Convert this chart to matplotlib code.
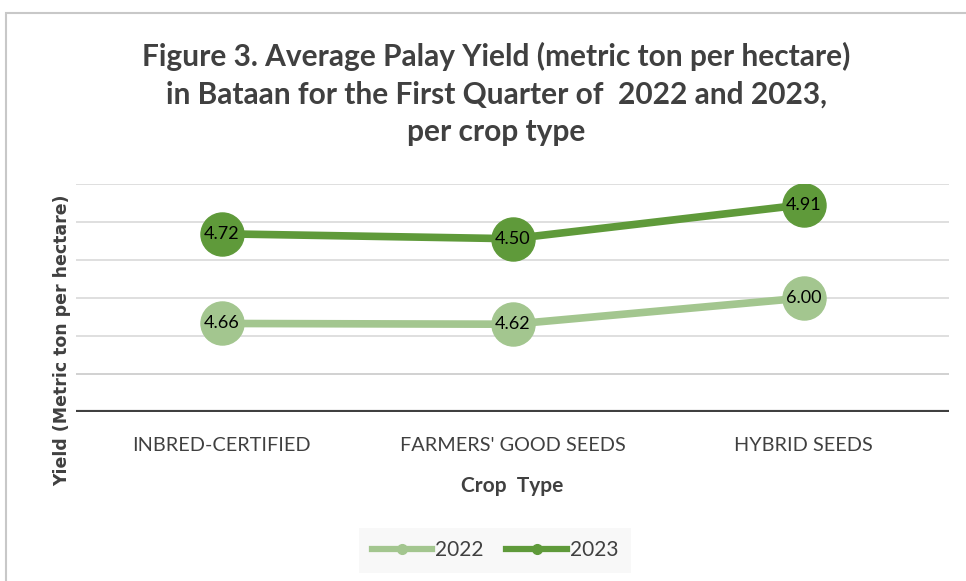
import numpy as np
import matplotlib.pyplot as plt
from matplotlib.patches import Rectangle
from matplotlib.lines import Line2D

crops = ['INBRED-CERTIFIED', "FARMERS' GOOD SEEDS", 'HYBRID SEEDS']
y2022 = [4.66, 4.62, 6.00]
y2023 = [4.72, 4.50, 4.91]
years = ['2022', '2023']

c22 = '#a3c68f'
c23 = '#5f9a3a'
narrow = ['Lato', 'DejaVu Sans']

W, H = 966, 581
fig = plt.figure(figsize=(W/100, H/100), dpi=100)

# chart frame (right and bottom edges are cut off in the original)
fig.patches.append(Rectangle((6/W, -0.1), 1.2, 1.1-13/H, transform=fig.transFigure,
                             fill=False, ec='#c8c8c8', lw=1.5))

ax = fig.add_axes([76/W, 1-412/H, 873/W, 228/H])
x = np.arange(len(crops))
top = np.array(y2022) + np.array(y2023)   # stacked line

ax.plot(x, y2022, color=c22, lw=5.5, marker='o', ms=31, zorder=3)
ax.plot(x, top, color=c23, lw=5.5, marker='o', ms=31, zorder=3)
for xi, yv, v in zip(x, y2022, y2022):
    ax.text(xi, yv, f'{v:.2f}', ha='center', va='center', fontsize=13,
            family=narrow, zorder=5)
for xi, yv, v in zip(x, top, y2023):
    ax.text(xi, yv, f'{v:.2f}', ha='center', va='center', fontsize=13,
            family=narrow, zorder=5)

ax.set_xlim(-0.5, 2.5)
ax.set_ylim(0, 12)
ax.set_yticks(np.arange(0, 13, 2))
ax.yaxis.grid(True, color='#d9d9d9', lw=1.2)
ax.axhline(2, color='#a6a6a6', lw=1.2, zorder=1)
ax.axhline(0, color='#404040', lw=3, zorder=2)
ax.set_yticklabels([])
ax.tick_params(length=0)
for s in ax.spines.values():
    s.set_visible(False)
ax.set_xticks(x)
ax.set_xticklabels(crops, fontsize=14.3, family=narrow, color='#404040')
ax.tick_params(axis='x', pad=18)

ax.set_xlabel('Crop  Type', fontsize=15, fontweight='bold', family=narrow,
              color='#404040', labelpad=16)
fig.text(62/W, 1-340/H, 'Yield (Metric ton per hectare)', rotation=90,
         ha='center', va='center', fontsize=12.5, fontweight='bold',
         color='#404040')

fig.text(496/W, 1-94/H,
         'Figure 3. Average Palay Yield (metric ton per hectare)\n'
         'in Bataan for the First Quarter of  2022 and 2023,\n'
         'per crop type',
         ha='center', va='center', fontsize=21.5, fontweight='bold',
         family=narrow, color='#404040', linespacing=1.42)

handles = [Line2D([], [], color=c22, lw=4.5, marker='o', ms=7),
           Line2D([], [], color=c23, lw=4.5, marker='o', ms=7)]
leg = fig.legend(handles, years, loc='center', bbox_to_anchor=(495/W, 1-550/H),
                 ncol=2, frameon=True, handlelength=2.9,
                 handletextpad=0.15, columnspacing=1.1, borderpad=0.6,
                 borderaxespad=0, prop={'family': narrow, 'size': 15})
leg.get_frame().set_facecolor('#f7f7f7')
leg.get_frame().set_edgecolor('none')
leg.get_frame().set_boxstyle('square', pad=0)
for t in leg.get_texts():
    t.set_color('#404040')

fig.savefig('out.png', dpi=100)
